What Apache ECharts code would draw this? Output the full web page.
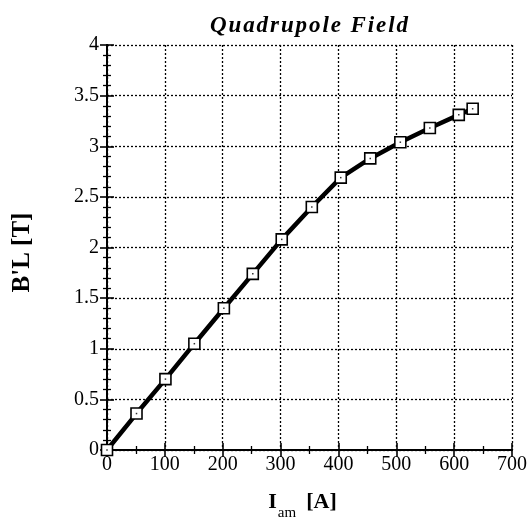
<!DOCTYPE html>
<html>
<head>
<meta charset="utf-8">
<script src="https://cdn.jsdelivr.net/npm/echarts@6/dist/echarts.min.js"></script>
<style>html,body{margin:0;padding:0;background:#fff}#c{width:529px;height:518px}</style>
</head>
<body>
<div id="c"></div>
<script>
var currentA = [0, 51, 101, 151, 202, 252, 302, 354, 404, 455, 507, 558, 608, 632];
var fieldT = [0, 0.36, 0.70, 1.05, 1.40, 1.74, 2.08, 2.40, 2.69, 2.88, 3.04, 3.18, 3.31, 3.37];
var xTicks = [0, 100, 200, 300, 400, 500, 600, 700];
var yTicks = [0, 0.5, 1, 1.5, 2, 2.5, 3, 3.5, 4];

var chart = echarts.init(document.getElementById('c'));
var font = '"Liberation Serif", "Times New Roman", serif';
var data = currentA.map(function (x, i) { return [x, fieldT[i]]; });
var common = {
  axisLine: {show: true, lineStyle: {color: '#000', width: 2}},
  axisTick: {show: true, inside: true, length: 7, lineStyle: {color: '#000', width: 1.6}}
};
function ax(extra) { return Object.assign({}, JSON.parse(JSON.stringify(common)), extra); }
var xMinor = {show: true, splitNumber: 2, length: 4, lineStyle: {color: '#000', width: 1.3}};
var yMinor = {show: true, splitNumber: 5, length: 4, lineStyle: {color: '#000', width: 1.3}};
var titleText = 'Quadrupole Field'.split('').join('\u200A');
chart.setOption({
  animation: false,
  backgroundColor: '#fff',
  title: {
    text: titleText, left: 304, top: 10, textAlign: 'center',
    textStyle: {fontFamily: font, fontSize: 23, fontWeight: 'bold', fontStyle: 'italic', color: '#000'}
  },
  grid: {left: 107, right: 17, top: 45, bottom: 68, outerBoundsMode: 'none', containLabel: false},
  xAxis: [
    ax({type: 'value', min: 0, max: 700, interval: 100, minorTick: xMinor,
      axisLabel: {fontFamily: font, fontSize: 20, color: '#000', margin: 5,
        formatter: function (v) { return xTicks.indexOf(v) >= 0 ? String(v) : ''; }},
      splitLine: {show: true, lineStyle: {color: '#000', type: [2, 2], width: 1.3}},
      name: '{i|I}{s|am}{i|[A]}', nameLocation: 'middle', nameGap: 34,
      nameTextStyle: {rich: {
        i: {fontFamily: font, fontSize: 22, fontWeight: 'bold', color: '#000'},
        s: {fontFamily: font, fontSize: 15, color: '#000', verticalAlign: 'bottom', padding: [22, 10, 0, 1]},
      }, padding: [0, 14, 0, 0]}
    }),
    ax({type: 'value', position: 'top', min: 0, max: 700, interval: 100, minorTick: xMinor,
      axisLabel: {show: false}, splitLine: {show: false}})
  ],
  yAxis: [
    ax({type: 'value', min: 0, max: 4, interval: 0.5, minorTick: yMinor,
      axisLabel: {fontFamily: font, fontSize: 20, color: '#000', margin: 8,
        formatter: function (v) { return yTicks.indexOf(v) >= 0 ? String(v) : ''; }},
      splitLine: {show: true, lineStyle: {color: '#000', type: [2, 2], width: 1.3}},
      name: "B'L [T]", nameLocation: 'middle', nameGap: 72, nameRotate: 90,
      nameTextStyle: {fontFamily: font, fontSize: 25, fontWeight: 'bold', color: '#000', padding: [0, 10, 0, 0]}
    }),
    ax({type: 'value', position: 'right', min: 0, max: 4, interval: 0.5, minorTick: yMinor,
      axisLabel: {show: false}, splitLine: {show: false}})
  ],
  series: [{
    type: 'line', data: data, xAxisIndex: 0, yAxisIndex: 0,
    lineStyle: {color: '#000', width: 4.5},
    symbol: 'rect', symbolSize: 11,
    itemStyle: {color: '#fff', borderColor: '#000', borderWidth: 1.6}
  }, {
    type: 'scatter', data: data, symbol: 'rect', symbolSize: 1.5, silent: true,
    itemStyle: {color: '#000'}, z: 5
  }]
});
</script>
</body>
</html>
